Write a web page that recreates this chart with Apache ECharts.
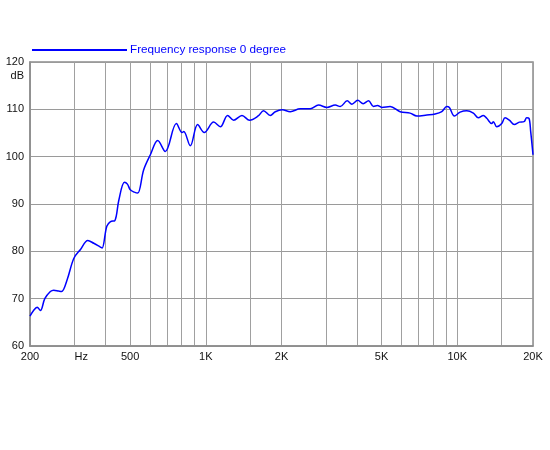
<!DOCTYPE html>
<html><head><meta charset="utf-8">
<script src="https://cdn.jsdelivr.net/npm/echarts@6/dist/echarts.min.js"></script>
<style>html,body{margin:0;padding:0;background:#fff}#c{width:550px;height:450px}</style>
</head><body><div id="c"></div>
<script>
var freqs = [200,206,213.5,220,229,241,248.6,260,267,281,298.6,317.5,339.6,358.5,381,387,404,418,435,451,475,488,501,520,536,566,602,644,690,764,805,817,868,928,986,1075,1142,1221,1290,1393,1493,1616,1697,1805,1890,2014,2167,2374,2602,2808,3031,3271,3424,3650,3810,4019,4224,4435,4643,4815,5013,5408,5927,6494,6904,7565,8163,8677,9084,9302,9738,10257,10904,11585,12126,12694,13095,13707,13910,14349,15022,15483,16105,16856,17645,18422,18878,19281,19583,20000];
var dbValues = [66.3,67.4,68.2,67.5,70.0,71.5,71.8,71.6,71.5,74.0,78.5,80.4,82.3,81.7,80.9,80.7,85.3,86.3,86.5,90.8,94.6,94.2,93.0,92.5,92.3,97.2,100.4,103.4,101.1,107.0,105.1,105.3,102.3,106.8,105.1,107.3,106.3,108.7,107.7,108.7,107.7,108.6,109.7,108.7,109.5,109.9,109.5,110.1,110.1,110.9,110.4,110.9,110.6,111.8,111.1,111.9,111.2,111.8,110.6,110.8,110.4,110.6,109.5,109.2,108.6,108.8,109.0,109.5,110.6,110.4,108.6,109.4,109.7,109.2,108.2,108.7,108.1,107.0,107.4,106.3,107.0,108.2,107.7,106.8,107.3,107.4,108.2,108.1,105.3,100.4];
var gridFreqs = [200,300,400,500,600,700,800,900,1000,1500,2000,3000,4000,5000,6000,7000,8000,9000,10000,15000,20000];
var xTickValues = [200,300,500,1000,2000,5000,10000,20000];
var xTickLabels = ['200','Hz','500','1K','2K','5K','10K','20K'];
var seriesName = 'Frequency response 0 degree';
var yUnit = 'dB';

var chart = echarts.init(document.getElementById('c'), null, {renderer:'canvas'});
var data = freqs.map(function(f,i){return [f, dbValues[i]];});
chart.setOption({
  animation:false,
  backgroundColor:'#fff',
  textStyle:{fontFamily:'"Liberation Sans", Arial, sans-serif'},
  legend:{
    data:[{name:seriesName, icon:'rect'}],
    left:27, top:39,
    itemWidth:95, itemHeight:2,
    textStyle:{color:'#0000ff', fontSize:11.7, padding:[0,0,0,-2]}
  },
  grid:{left:30, right:17, top:62, bottom:104, show:true, borderColor:'#8c8c8c', borderWidth:1.5},
  xAxis:{
    type:'log', logBase:10, min:200, max:20000,
    axisLine:{show:true, lineStyle:{color:'#8c8c8c', width:1.5}},
    axisTick:{show:false, customValues:gridFreqs},
    splitLine:{show:true, lineStyle:{color:'#a0a0a0', width:1}},
    minorSplitLine:{show:false},
    axisLabel:{
      customValues:xTickValues,
      color:'#111', fontSize:11, margin:5,
      formatter:function(v){
        var i = xTickValues.indexOf(v);
        var t = i>=0 ? xTickLabels[i] : '';
        return t==='Hz' ? '{hz|Hz}' : t;
      },
      rich:{hz:{fontSize:11, color:'#111', padding:[0,0,0,14]}}
    }
  },
  yAxis:{
    type:'value', min:60, max:120, interval:10,
    axisLine:{show:true, lineStyle:{color:'#8c8c8c', width:1.5}},
    axisTick:{show:false},
    splitLine:{show:true, lineStyle:{color:'#9a9a9a', width:1}},
    axisLabel:{color:'#111', fontSize:11, margin:6}
  },
  graphic:[{
    type:'text', right:526, top:70,
    style:{text:yUnit, fill:'#111', fontSize:11, fontFamily:'"Liberation Sans", Arial, sans-serif'}
  }],
  series:[{
    name:seriesName, type:'line', data:data,
    showSymbol:false, symbol:'none', smooth:0.35,
    lineStyle:{color:'#0000ff', width:1.5},
    itemStyle:{color:'#0000ff'}
  }]
});
</script></body></html>
